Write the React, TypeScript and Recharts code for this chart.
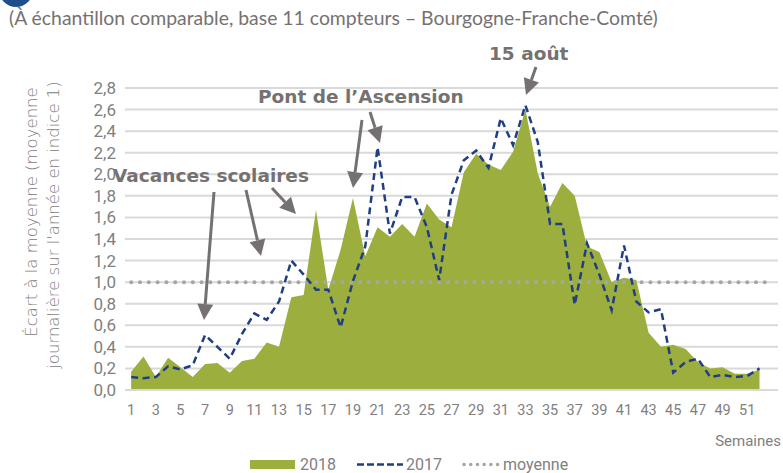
import React from "react";
import { ComposedChart, Area, Line, XAxis, YAxis, CartesianGrid } from "recharts";

// semaines 1..53 (la 53e n'a pas de valeur, seule la moyenne y va)
const WEEKS = [
  1, 2, 3, 4, 5, 6, 7, 8, 9, 10, 11, 12, 13, 14, 15, 16, 17, 18, 19, 20,
  21, 22, 23, 24, 25, 26, 27, 28, 29, 30, 31, 32, 33, 34, 35, 36, 37, 38, 39, 40,
  41, 42, 43, 44, 45, 46, 47, 48, 49, 50, 51, 52, 53,
];

const V2018 = [
  0.17, 0.31, 0.12, 0.30, 0.21, 0.12, 0.24, 0.25, 0.16, 0.27, 0.29, 0.44, 0.40,
  0.86, 0.88, 1.67, 0.93, 1.30, 1.78, 1.24, 1.51, 1.42, 1.54, 1.42, 1.73, 1.58,
  1.51, 2.02, 2.19, 2.09, 2.04, 2.21, 2.60, 2.01, 1.70, 1.92, 1.80, 1.33, 1.28,
  1.00, 1.04, 1.02, 0.53, 0.40, 0.42, 0.38, 0.26, 0.20, 0.21, 0.15, 0.15, 0.19,
];

const V2017 = [
  0.12, 0.11, 0.12, 0.22, 0.19, 0.23, 0.51, 0.40, 0.29, 0.52, 0.71, 0.65, 0.82,
  1.20, 1.07, 0.93, 0.93, 0.58, 1.01, 1.33, 2.25, 1.45, 1.79, 1.79, 1.51, 1.02,
  1.81, 2.13, 2.22, 2.06, 2.52, 2.27, 2.64, 2.30, 1.54, 1.54, 0.79, 1.36, 1.07,
  0.74, 1.34, 0.82, 0.72, 0.75, 0.16, 0.26, 0.29, 0.12, 0.14, 0.12, 0.13, 0.20,
];

const MOYENNE = 1;

const X_TICKS = [1, 3, 5, 7, 9, 11, 13, 15, 17, 19, 21, 23, 25, 27, 29, 31, 33, 35, 37, 39, 41, 43, 45, 47, 49, 51];
const Y_TICKS = [0, 0.2, 0.4, 0.6, 0.8, 1.0, 1.2, 1.4, 1.6, 1.8, 2.0, 2.2, 2.4, 2.6, 2.8];

const GREEN = "#9caf3e";
const NAVY = "#203f80";
const DOT_GREY = "#a6a6a6";
const GRID = "#d9d9d9";
const TEXT_GREY = "#767171";
const TICK_GREY = "#808080";
const TICK_FONT = "Roboto, sans-serif";

const data = WEEKS.map((w, i) => ({
  week: w,
  v2018: V2018[i] ?? null,
  v2017: V2017[i] ?? null,
  moyenne: MOYENNE,
}));

// flèches des annotations : [x queue, y queue, x pointe, y pointe]
const ARROWS: [number, number, number, number][] = [
  [214, 192, 204, 320],
  [246, 190, 261, 256],
  [272, 188, 296, 214],
  [362, 120, 353, 188],
  [370, 112, 380, 143],
  [536, 67, 526, 95],
];

function Arrow({ a }: { a: [number, number, number, number] }) {
  const [x1, y1, x2, y2] = a;
  const len = Math.hypot(x2 - x1, y2 - y1);
  const ux = (x2 - x1) / len;
  const uy = (y2 - y1) / len;
  const head = 16;
  const half = 8;
  const bx = x2 - ux * head;
  const by = y2 - uy * head;
  const pts = `${x2},${y2} ${bx - uy * half},${by + ux * half} ${bx + uy * half},${by - ux * half}`;
  return (
    <g>
      <line x1={x1} y1={y1} x2={bx} y2={by} stroke={TEXT_GREY} strokeWidth={3} />
      <polygon points={pts} fill={TEXT_GREY} />
    </g>
  );
}

function Overlay() {
  const bold = { fontFamily: "'DejaVu Sans', sans-serif", fontWeight: 700, fontSize: 18.5, fill: TEXT_GREY };
  const axisTitle = { fontFamily: "'DejaVu Sans', sans-serif", fontWeight: 300, fontSize: 16.5, fill: TICK_GREY };
  return (
    <svg width={783} height={473} style={{ position: "absolute", left: 0, top: 0, pointerEvents: "none" }}>
      {/* bout du titre coupé en haut */}
      <circle cx={16} cy={-10} r={17} fill="#1f4e8c" />

      <text x={9} y={25} style={{ fontFamily: "Lato, sans-serif", fontSize: 19.4, fill: TEXT_GREY }}>
        (À échantillon comparable, base 11 compteurs – Bourgogne-Franche-Comté)
      </text>

      {/* titre de l'axe Y */}
      <text transform="translate(37,212) rotate(-90)" textAnchor="middle" style={axisTitle}>
        Écart à la moyenne (moyenne
      </text>
      <text transform="translate(59,225) rotate(-90)" textAnchor="middle" style={axisTitle}>
        journalière sur l'année en indice 1)
      </text>

      <text x={113} y={182} style={bold}>Vacances scolaires</text>
      <text x={258} y={103} style={bold}>Pont de l’Ascension</text>
      <text x={489} y={60} style={bold}>15 août</text>
      {ARROWS.map((a, i) => (
        <Arrow key={i} a={a} />
      ))}

      <text x={781} y={446} textAnchor="end" style={{ fontFamily: TICK_FONT, fontSize: 15, fill: TICK_GREY }}>
        Semaines
      </text>

      {/* légende */}
      <g style={{ fontFamily: TICK_FONT, fontSize: 16, fill: TICK_GREY }}>
        <rect x={250} y={460} width={45} height={9} fill={GREEN} />
        <text x={300} y={470}>2018</text>
        <line x1={357} y1={464.5} x2={403} y2={464.5} stroke={NAVY} strokeWidth={2.5} strokeDasharray="7 3" />
        <text x={406} y={470}>2017</text>
        <line x1={464} y1={464.5} x2={500} y2={464.5} stroke={DOT_GREY} strokeWidth={3.5} strokeDasharray="0.1 6.6" strokeLinecap="round" />
        <text x={503} y={470}>moyenne</text>
      </g>
    </svg>
  );
}

export default function App() {
  return (
    <div style={{ position: "absolute", left: 0, top: 0, width: 783, height: 473, background: "#fff" }}>
      <ComposedChart
        width={783}
        height={473}
        data={data}
        margin={{ top: 88, right: 5, bottom: 53, left: 85 }}
      >
        <CartesianGrid vertical={false} stroke={GRID} strokeWidth={2} />
        <XAxis
          dataKey="week"
          type="number"
          domain={[0.5, 53.5]}
          ticks={X_TICKS}
          interval={0}
          height={30}
          axisLine={{ stroke: GRID, strokeWidth: 2 }}
          tickLine={false}
          tickMargin={9}
          tick={{ fontFamily: TICK_FONT, fontSize: 14.5, fill: TICK_GREY }}
        />
        <YAxis
          type="number"
          domain={[0, 2.8]}
          ticks={Y_TICKS}
          interval={0}
          width={40}
          axisLine={false}
          tickLine={false}
          tickMargin={3}
          tickFormatter={(v: number) => v.toFixed(1).replace(".", ",")}
          tick={{ fontFamily: TICK_FONT, fontSize: 17, fill: TICK_GREY }}
        />
        <Area
          type="linear"
          dataKey="v2018"
          fill={GREEN}
          fillOpacity={1}
          stroke="none"
          isAnimationActive={false}
        />
        <Line
          type="linear"
          dataKey="moyenne"
          stroke={DOT_GREY}
          strokeWidth={4}
          strokeDasharray="0.1 8.7"
          strokeLinecap="round"
          dot={false}
          isAnimationActive={false}
        />
        <Line
          type="linear"
          dataKey="v2017"
          stroke={NAVY}
          strokeWidth={2.5}
          strokeDasharray="7 4.5"
          dot={false}
          isAnimationActive={false}
        />
      </ComposedChart>
      <Overlay />
    </div>
  );
}
